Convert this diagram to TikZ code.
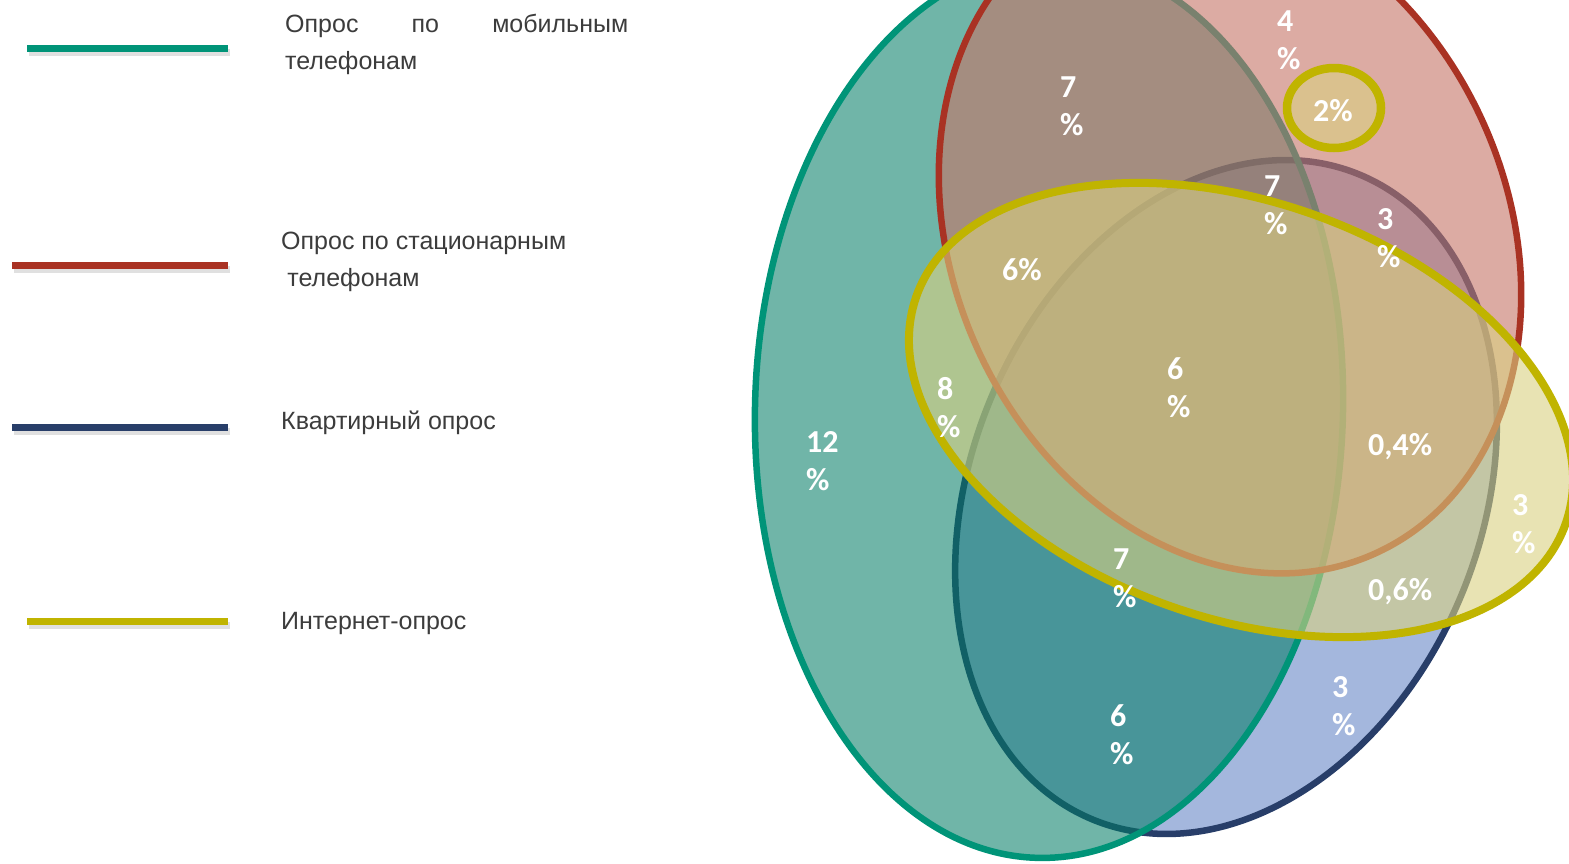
\documentclass[tikz,border=0pt]{standalone}
\usepackage{fontspec}
\setmainfont{Liberation Sans}
\newfontfamily\lblfont{Carlito}
\definecolor{gline}{RGB}{0,148,120}
\definecolor{rline}{RGB}{169,50,35}
\definecolor{bline}{RGB}{40,62,105}
\definecolor{yline}{RGB}{192,180,0}
\definecolor{gfill}{RGB}{0,123,100}
\definecolor{rfill}{RGB}{198,117,104}
\definecolor{bfill}{RGB}{164,183,221}
\definecolor{yfill}{RGB}{217,208,128}
\definecolor{legtext}{RGB}{60,60,60}
\begin{document}
\begin{tikzpicture}[x=1pt,y=-1pt,
  setline/.style={line width=6.5pt},
  pct/.style={font=\lblfont\bfseries\fontsize{32}{38}\selectfont, text=white, align=left, inner sep=0pt, anchor=west},
  legtxt/.style={font=\fontsize{25}{37}\selectfont, text=legtext, align=left, inner sep=0pt, anchor=base west},
  legline/.style={line width=7pt},
  legshadow/.style={line width=7pt, black, opacity=0.12}]
\useasboundingbox (0,0) rectangle (1569,863);
\begin{scope}
\clip (0,0) rectangle (1569,863);
% apartment survey (blue)
\draw[bline, fill=bfill, setline, rotate around={-22.5:(1226,497)}] (1226,497) ellipse [x radius=255pt, y radius=349pt];
% mobile survey (green)
\draw[gline, fill=gfill, fill opacity=0.56, setline, rotate around={-1.5:(1049,409)}] (1049,409) ellipse [x radius=294pt, y radius=449pt];
% landline survey (red)
\draw[rline, fill=rfill, fill opacity=0.61, setline, rotate around={24.8:(1230,235)}] (1230,235) ellipse [x radius=277pt, y radius=350pt];
% internet survey (yellow)
\draw[yline, fill=yfill, fill opacity=0.6, line width=8pt, rotate around={-19.2:(1241,410)}] (1241,410) ellipse [x radius=344pt, y radius=208.5pt];
\draw[yline, fill=yfill, fill opacity=0.6, line width=8.5pt] (1334,108) ellipse [x radius=47pt, y radius=40pt];
\end{scope}
% percentages
\node[pct] (p4) at (1277,40) {4\\\%};
\node[pct] (p7a) at (1060,106) {7\\\%};
\node[pct] (p2) at (1313,111) {2\%};
\node[pct] (p7b) at (1264,205) {7\\\%};
\node[pct] (p3a) at (1377,238) {3\\\%};
\node[pct] (p6a) at (1002,270) {6\%};
\node[pct] (p6b) at (1167,388) {6\\\%};
\node[pct] (p8) at (937,408) {8\\\%};
\node[pct] (p12) at (806,461) {12\\\%};
\node[pct] (p04) at (1368,447) {0,4\%};
\node[pct] (p3b) at (1512,524) {3\\\%};
\node[pct] (p7c) at (1113,578) {7\\\%};
\node[pct] (p06) at (1368,592) {0,6\%};
\node[pct] (p3c) at (1332,706) {3\\\%};
\node[pct] (p6c) at (1110,735) {6\\\%};
% legend
\coordinate (gA) at (27,48); \coordinate (gB) at (228,48);
\coordinate (rA) at (12,265); \coordinate (rB) at (228,265);
\coordinate (bA) at (12,427); \coordinate (bB) at (228,427);
\coordinate (yA) at (27,621); \coordinate (yB) at (228,621);
\foreach \a/\b in {gA/gB,rA/rB,bA/bB,yA/yB}
  \draw[legshadow, transform canvas={xshift=2pt,yshift=-4pt}] (\a) -- (\b);
\draw[legline, gline] (gA) -- (gB);
\draw[legline, rline] (rA) -- (rB);
\draw[legline, bline] (bA) -- (bB);
\draw[legline, yline] (yA) -- (yB);
\node[legtxt] (tmob) at (285,69) {\makebox[343pt][s]{Опрос по мобильным}\\телефонам};
\node[legtxt] (tland) at (281,286) {Опрос по стационарным\\\hspace*{0.25em}телефонам};
\node[legtxt] (tapt) at (281,429) {Квартирный опрос};
\node[legtxt] (tnet) at (281,629) {Интернет-опрос};
\end{tikzpicture}
\end{document}
